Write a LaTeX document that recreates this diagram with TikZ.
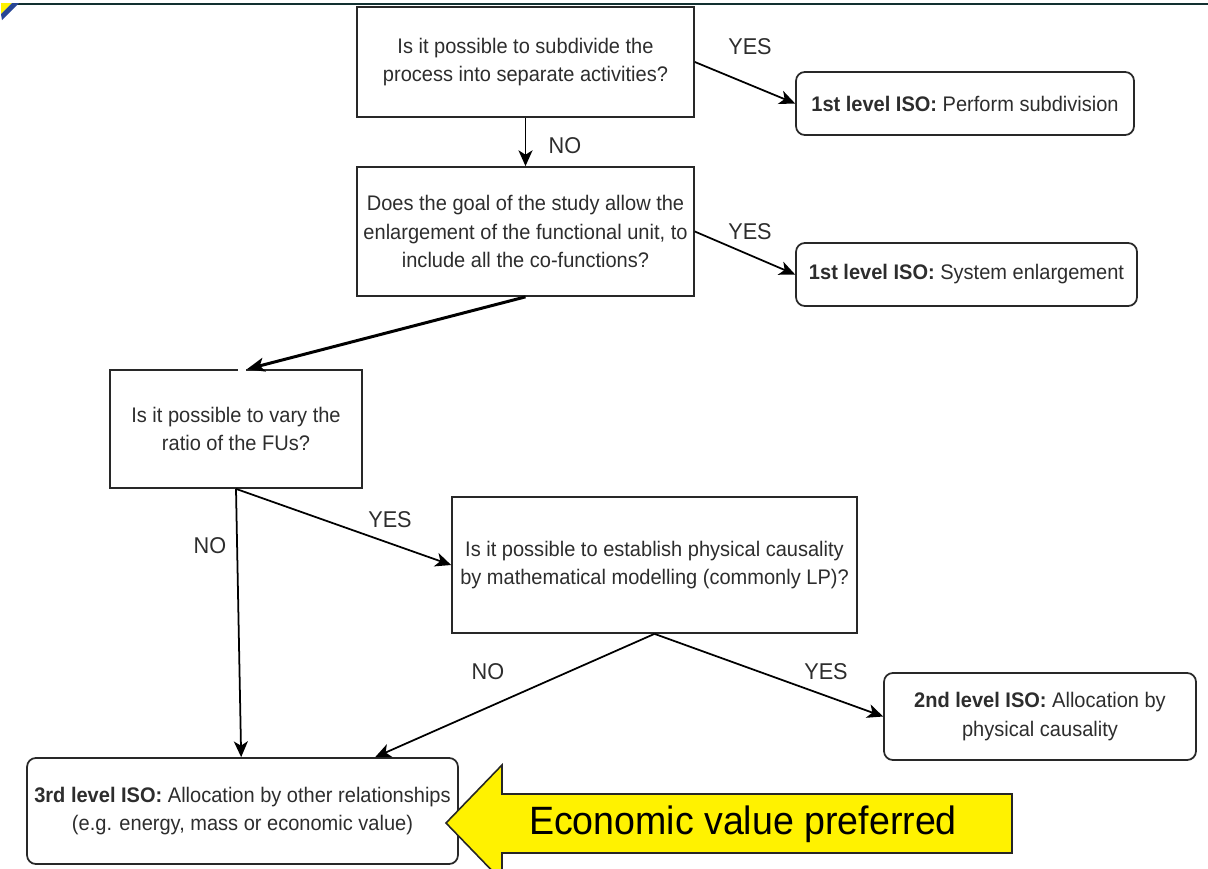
\documentclass[tikz,border=0pt]{standalone}
\usepackage{fontspec}
\setmainfont{Liberation Sans}[FakeStretch=0.95]
\usetikzlibrary{arrows.meta,calc}
\definecolor{txtgray}{RGB}{45,45,45}
\definecolor{edgegray}{RGB}{40,40,40}
\definecolor{topline}{RGB}{18,48,48}
\definecolor{cornerblue}{RGB}{40,70,150}
\tikzset{
  qbox/.style={draw=edgegray, line width=1pt, rectangle, align=center, inner sep=0pt,
    text=txtgray, font=\fontsize{12}{16}\selectfont},
  rbox/.style={qbox, rounded corners=5pt},
  conn/.style={draw=black, line width=1pt, -{Stealth[length=9pt,width=8pt,inset=2.5pt]}},
  thickconn/.style={draw=black, line width=1.7pt, -{Stealth[length=10pt,width=8pt,inset=2.5pt]}},
  lbl/.style={text=txtgray, font=\fontsize{13}{15}\selectfont, inner sep=0pt},
}
\begin{document}
\begin{tikzpicture}[x=0.02cm,y=-0.02cm]
\clip (0,0) rectangle (1208,869);
\fill[white] (0,0) rectangle (1208,869);
% top border line and corner mark
\draw[topline, line width=1.3pt] (14,4) -- (1208,4);
\fill[yellow] (1,3) -- (12,3) -- (1,14) -- cycle;
\fill[cornerblue] (12,3) -- (19,3) -- (2,20) -- (1,14) -- cycle;

% nodes
\node[qbox, minimum width=6.74cm, minimum height=2.2cm] (q1) at (525.5,62)
  {Is it possible to subdivide the\\process into separate activities?};
\node[rbox, minimum width=6.76cm, minimum height=1.26cm] (a1) at (965,103.5)
  {\textbf{1st level ISO:} Perform subdivision};
\node[qbox, minimum width=6.74cm, minimum height=2.58cm] (q2) at (525.5,231.5)
  {Does the goal of the study allow the\\enlargement of the functional unit, to\\include all the co-functions?};
\node[rbox, minimum width=6.82cm, minimum height=1.26cm] (a2) at (966.5,274.5)
  {\textbf{1st level ISO:} System enlargement};
\node[qbox, minimum width=5.04cm, minimum height=2.36cm] (q3) at (236,429)
  {Is it possible to vary the\\ratio of the FUs?};
\node[qbox, minimum width=8.1cm, minimum height=2.72cm] (q4) at (654.5,565)
  {Is it possible to establish physical causality\\by mathematical modelling (commonly LP)?};
\node[rbox, minimum width=6.24cm, minimum height=1.74cm] (a3) at (1040,716.5)
  {\textbf{2nd level ISO:} Allocation by\\physical causality};
\node[rbox, minimum width=8.62cm, minimum height=2.12cm] (a4) at (242.5,811)
  {\textbf{3rd level ISO:} Allocation by other relationships\\(e.g. energy, mass or economic value)};

% helper coordinates on box tops
\coordinate (q3in) at ($(q3.north)+(11,0)$);
\coordinate (a4inL) at ($(a4.north west)+(215,0)$);
\coordinate (a4inR) at ($(a4.north west)+(349,0)$);

% gap in the top border of q3 next to the arrow tip
\draw[white, line width=1.6pt] ($(q3.north)+(2,0)$) -- ($(q3.north)+(10,0)$);

% connectors
\draw[conn] (q1.east) -- (a1.west);
\draw[conn] (q1.south) -- (q2.north);
\draw[conn] (q2.east) -- (a2.west);
\draw[thickconn] (q2.south) -- (q3in);
\draw[conn] (q3.south) -- (a4inL);
\draw[conn] (q3.south) -- (q4.west);
\draw[conn] (q4.south) -- (a3.west);
\draw[conn] (q4.south) -- (a4inR);

% connector labels
\node[lbl] (l1) at (750,47) {YES};
\node[lbl] (l2) at (565,146) {NO};
\node[lbl] (l3) at (750,232) {YES};
\node[lbl] (l4) at (210,546) {NO};
\node[lbl] (l5) at (390,520) {YES};
\node[lbl] (l6) at (488,672) {NO};
\node[lbl] (l7) at (826,672) {YES};

% big yellow arrow
\draw[fill=yellow, draw=black!85, line width=0.9pt]
  (446,823) -- (502,765) -- (502,794) -- (1012,794) -- (1012,853) -- (502,853) -- (502,881) -- cycle;
\node[inner sep=0pt, font=\fontsize{22.5}{26}\selectfont, text=black] (ev) at (743,824)
  {Economic value preferred};
\end{tikzpicture}
\end{document}
